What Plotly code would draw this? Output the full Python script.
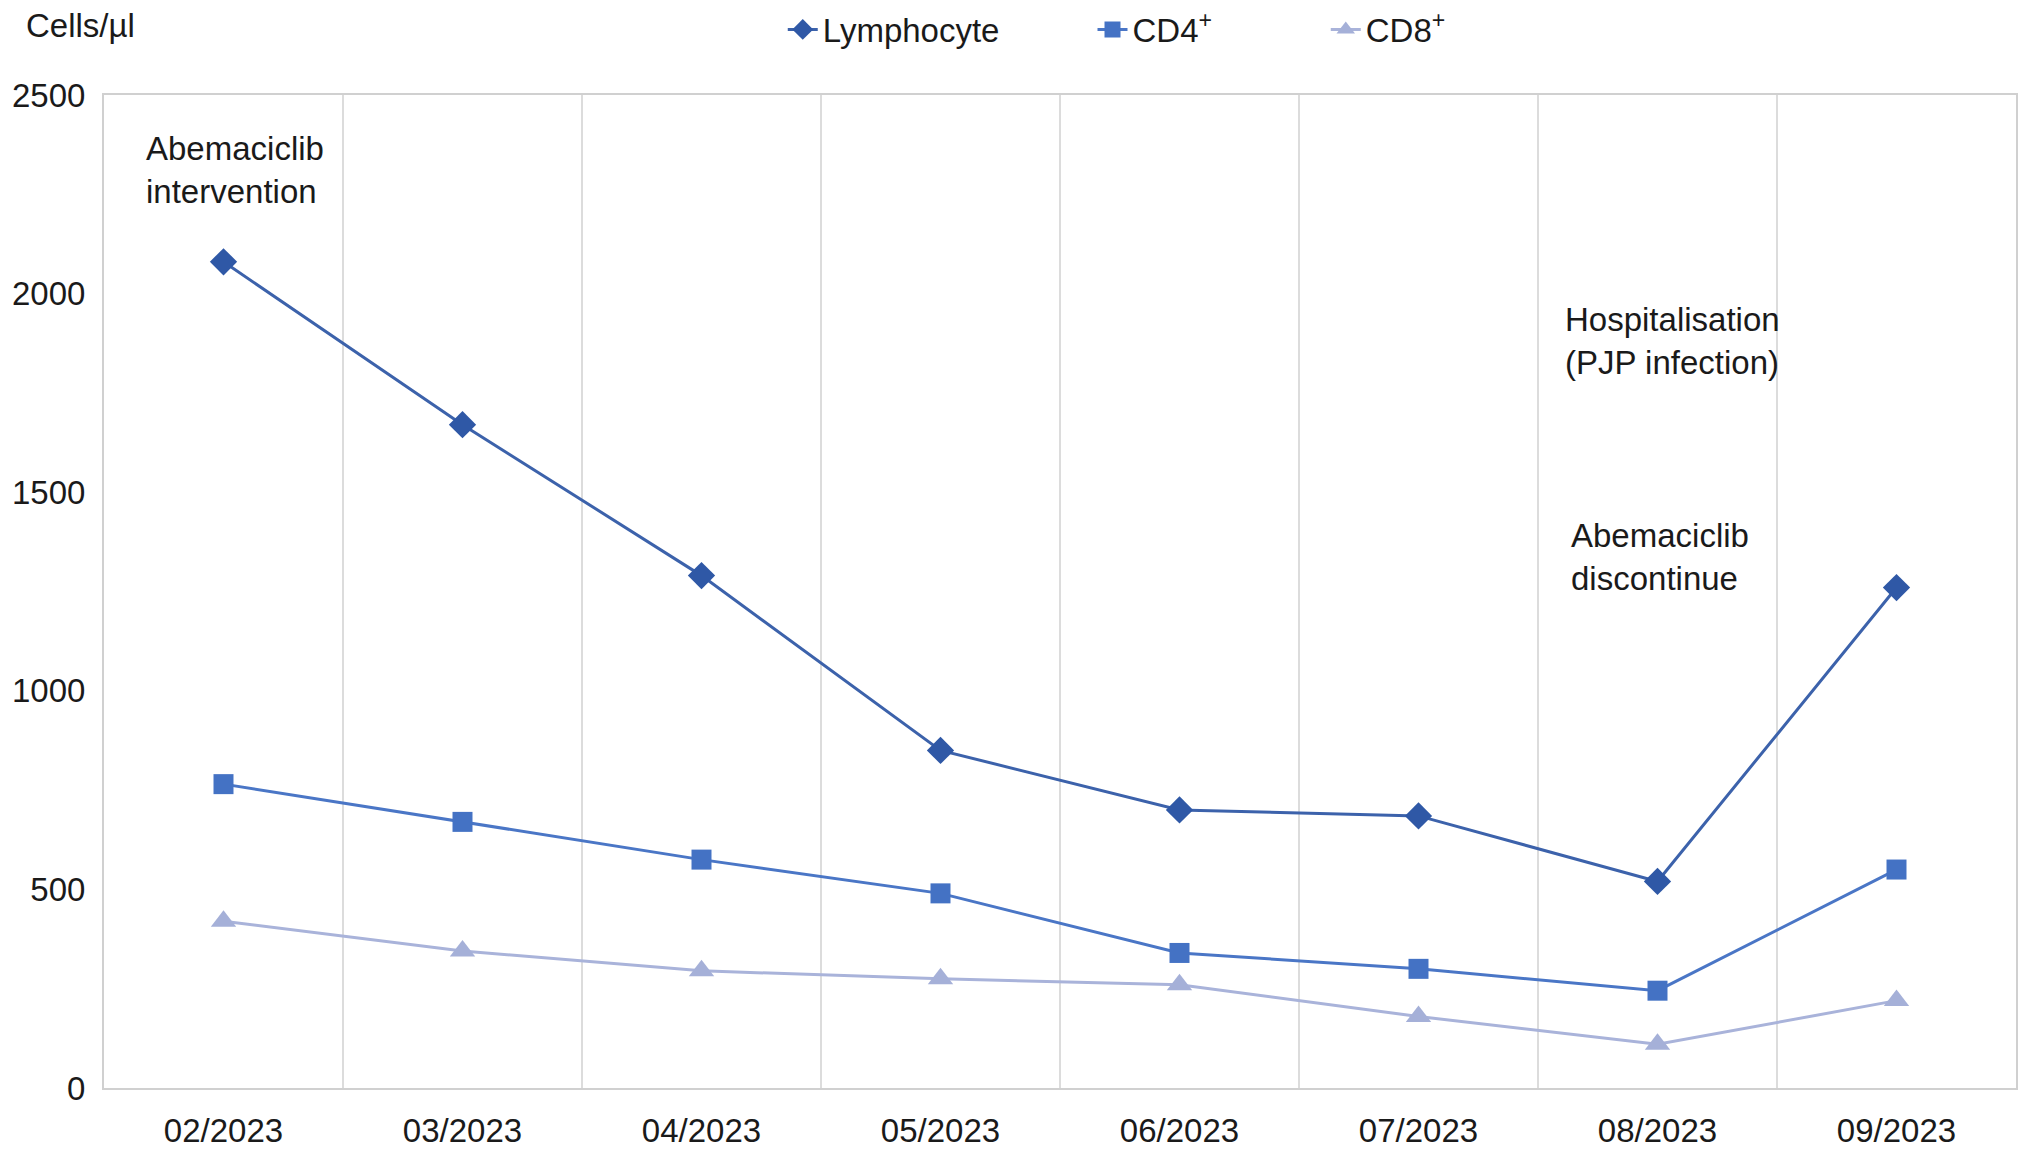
import plotly.graph_objects as go

months = ["02/2023", "03/2023", "04/2023", "05/2023", "06/2023", "07/2023", "08/2023", "09/2023"]
lymphocyte = [2080, 1670, 1290, 850, 700, 685, 520, 1260]
cd4 = [765, 670, 575, 490, 340, 300, 245, 550]
cd8 = [420, 345, 295, 275, 260, 180, 110, 220]
y_ticks = [0, 500, 1000, 1500, 2000, 2500]

FONT = "Liberation Sans, Arial, sans-serif"
FS = 33

fig = go.Figure()
fig.add_trace(go.Scatter(
    x=months, y=lymphocyte, name="Lymphocyte", mode="lines+markers",
    line=dict(color="#3c62ab", width=3),
    marker=dict(symbol="diamond", size=21, color="#2f58a6"),
    legend="legend",
))
fig.add_trace(go.Scatter(
    x=months, y=cd4, name="CD4<sup>+</sup>", mode="lines+markers",
    line=dict(color="#4a76c6", width=3),
    marker=dict(symbol="square", size=20, color="#4472c4"),
    legend="legend2",
))
fig.add_trace(go.Scatter(
    x=months, y=cd8, name="CD8<sup>+</sup>", mode="lines+markers",
    line=dict(color="#a9b3da", width=3),
    marker=dict(symbol="triangle-up", size=22, color="#a5b0d8"),
    legend="legend3",
))

annotations = [
    dict(text="Cells/µl", xref="paper", yref="paper", x=-0.042, y=1.07,
         xanchor="left", yanchor="middle", showarrow=False),
    dict(text="Abemaciclib<br>intervention", xref="paper", yref="y", x=0.021, y=2310,
         xanchor="left", yanchor="middle", align="left", showarrow=False),
    dict(text="Hospitalisation<br>(PJP infection)", xref="paper", yref="y", x=0.763, y=1881,
         xanchor="left", yanchor="middle", align="left", showarrow=False),
    dict(text="Abemaciclib<br>discontinue", xref="paper", yref="y", x=0.766, y=1336,
         xanchor="left", yanchor="middle", align="left", showarrow=False),
]

def leg(x):
    return dict(orientation="h", x=x, y=1.066, xanchor="left", yanchor="middle",
                font=dict(size=FS), itemwidth=30, bgcolor="rgba(0,0,0,0)")

fig.update_layout(
    width=2032, height=1154,
    margin=dict(l=104, r=16, t=95, b=66, autoexpand=False),
    paper_bgcolor="white", plot_bgcolor="white",
    font=dict(family=FONT, size=FS, color="#1a1a1a"),
    showlegend=True,
    legend=leg(0.355),
    legend2=leg(0.517),
    legend3=leg(0.639),
    annotations=annotations,
)
fig.update_xaxes(
    type="category", tickson="boundaries", showgrid=True, gridcolor="#dcdcdc", gridwidth=2,
    showline=True, linecolor="#d0d0d0", linewidth=2, mirror=True,
    ticks="", ticklabelstandoff=12, zeroline=False, range=[-0.5, 7.5],
)
fig.update_yaxes(
    range=[0, 2500], tickvals=y_ticks, showgrid=False,
    showline=True, linecolor="#d0d0d0", linewidth=2, mirror=True,
    ticks="", zeroline=False, ticklabelstandoff=10,
)

fig.write_html(
    "out.html",
    config={"displayModeBar": False},
    post_script="document.body.style.margin='0';document.body.style.overflow='hidden';",
)
